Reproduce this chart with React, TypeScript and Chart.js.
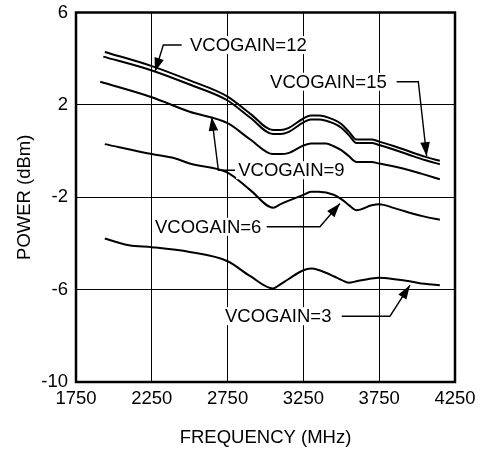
import React, { useEffect, useRef } from "react";
import { Chart, registerables } from "chart.js";

Chart.register(...registerables);

// Frequency (MHz) sample points and power (dBm) per VCOGAIN setting
const freq15 = [1940, 2250, 2500, 2750, 2900, 3050, 3100, 3150, 3250, 3300, 3350, 3450, 3500, 3550, 3600, 3700, 3750, 3850, 3950, 4050, 4150];
const gain15 = [4.29, 3.68, 3.06, 2.36, 1.61, 0.91, 0.91, 0.99, 1.41, 1.54, 1.54, 1.36, 1.17, 0.84, 0.5, 0.5, 0.41, 0.21, -0.02, -0.24, -0.42];

const freq12 = [1930, 2250, 2500, 2750, 2900, 3050, 3100, 3150, 3250, 3300, 3350, 3450, 3500, 3550, 3600, 3700, 3750, 3850, 3950, 4050, 4150];
const gain12 = [4.09, 3.49, 2.88, 2.19, 1.44, 0.74, 0.74, 0.82, 1.24, 1.37, 1.37, 1.2, 1.01, 0.69, 0.35, 0.35, 0.26, 0.06, -0.17, -0.39, -0.57];

const freq9 = [1910, 2250, 2500, 2750, 2900, 3050, 3100, 3150, 3250, 3300, 3400, 3450, 3500, 3550, 3600, 3700, 3750, 3850, 3950, 4050, 4150];
const gain9 = [3.0, 2.33, 1.7, 1.21, 0.5, -0.13, -0.13, -0.09, 0.24, 0.33, 0.33, 0.21, 0.04, -0.22, -0.47, -0.47, -0.54, -0.67, -0.83, -1.02, -1.22];

const freq6 = [1940, 2250, 2400, 2500, 2750, 2900, 3050, 3100, 3150, 3250, 3300, 3350, 3450, 3500, 3550, 3600, 3700, 3750, 3850, 3950, 4050, 4150];
const gain6 = [0.3, -0.13, -0.31, -0.54, -0.93, -1.69, -2.45, -2.3, -2.16, -1.9, -1.76, -1.76, -1.89, -2.08, -2.34, -2.56, -2.35, -2.3, -2.47, -2.67, -2.84, -2.97];

const freq3 = [1940, 2100, 2250, 2500, 2750, 2900, 3050, 3100, 3150, 3250, 3300, 3350, 3450, 3500, 3550, 3600, 3700, 3750, 3850, 3950, 4050, 4150];
const gain3 = [-3.79, -4.08, -4.16, -4.37, -4.77, -5.42, -5.95, -5.76, -5.55, -5.16, -5.09, -5.15, -5.42, -5.58, -5.7, -5.64, -5.52, -5.49, -5.55, -5.64, -5.75, -5.81];

const xTickMin = 1750;
const xTickMax = 4250;
const xTickStep = 500;
const yTickMin = -10;
const yTickMax = 6;
const yTickStep = 4;

const xTitle = "FREQUENCY (MHz)";
const yTitle = "POWER (dBm)";

const seriesLabels = ["VCOGAIN=15", "VCOGAIN=12", "VCOGAIN=9", "VCOGAIN=6", "VCOGAIN=3"];
const seriesFreqs = [freq15, freq12, freq9, freq6, freq3];
const seriesGains = [gain15, gain12, gain9, gain6, gain3];

// Callout labels, positioned in data coordinates: text start, then leader path ending at arrow tip
const callouts = [
  { text: "VCOGAIN=12", at: [2502, 4.59], path: [[2447, 4.59], [2326, 4.59], [2271, 3.43]] },
  { text: "VCOGAIN=15", at: [3030, 3.0], path: [[3865, 3.0], [4008, 3.0], [4063, -0.22]] },
  { text: "VCOGAIN=9", at: [2820, -0.83], path: [[2799, -0.83], [2689, -0.83], [2645, 1.48]] },
  { text: "VCOGAIN=6", at: [2271, -3.28], path: [[3008, -3.28], [3359, -3.28], [3491, -2.27]] },
  { text: "VCOGAIN=3", at: [2733, -7.15], path: [[3503, -7.15], [3821, -7.15], [3953, -5.81]] },
];

const FONT = "'Liberation Sans', Arial, Helvetica, sans-serif";
const FS = 18.5;

const framePlugin = {
  id: "frameAndCallouts",
  afterDatasetsDraw(chart: any) {
    const { ctx, chartArea, scales } = chart;
    const xs = scales.x;
    const ys = scales.y;
    ctx.save();
    ctx.strokeStyle = "#000";
    ctx.lineWidth = 2.5;
    ctx.strokeRect(chartArea.left, chartArea.top, chartArea.right - chartArea.left, chartArea.bottom - chartArea.top);

    ctx.font = `${FS}px ${FONT}`;
    ctx.textBaseline = "middle";
    ctx.textAlign = "left";
    for (const c of callouts) {
      const tx = xs.getPixelForValue(c.at[0]);
      const ty = ys.getPixelForValue(c.at[1]);
      const w = ctx.measureText(c.text).width;
      ctx.fillStyle = "#fff";
      ctx.fillRect(tx - 2, ty - 9, w + 4, 18);
      ctx.fillStyle = "#000";
      ctx.fillText(c.text, tx, ty + 1);

      const pts = c.path.map((p) => [xs.getPixelForValue(p[0]), ys.getPixelForValue(p[1])]);
      ctx.lineWidth = 1.4;
      ctx.beginPath();
      ctx.moveTo(pts[0][0], pts[0][1]);
      for (let i = 1; i < pts.length; i++) ctx.lineTo(pts[i][0], pts[i][1]);
      ctx.stroke();

      const [ex, ey] = pts[pts.length - 1];
      const [sx, sy] = pts[pts.length - 2];
      const ang = Math.atan2(ey - sy, ex - sx);
      const len = 14;
      const hw = 4.8;
      const bx = ex - len * Math.cos(ang);
      const by = ey - len * Math.sin(ang);
      ctx.beginPath();
      ctx.moveTo(ex, ey);
      ctx.lineTo(bx + hw * Math.sin(ang), by - hw * Math.cos(ang));
      ctx.lineTo(bx - hw * Math.sin(ang), by + hw * Math.cos(ang));
      ctx.closePath();
      ctx.fill();
    }
    ctx.restore();
  },
};

export default function App() {
  const ref = useRef<HTMLCanvasElement>(null);
  useEffect(() => {
    if (!ref.current) return;
    const chart = new Chart(ref.current, {
      type: "line",
      data: {
        datasets: seriesLabels.map((label, k) => ({
          label,
          data: seriesFreqs[k].map((x, i) => ({ x, y: seriesGains[k][i] })),
          borderColor: "#000",
          backgroundColor: "#000",
          borderWidth: 2,
          pointRadius: 0,
          cubicInterpolationMode: "monotone" as const,
          fill: false,
        })),
      },
      options: {
        animation: false,
        responsive: false,
        devicePixelRatio: 1,
        layout: { padding: { left: 0, right: 25, top: 12.5, bottom: 0 } },
        plugins: { legend: { display: false }, tooltip: { enabled: false } },
        scales: {
          x: {
            type: "linear",
            min: xTickMin,
            max: xTickMax,
            afterFit: (s: any) => {
              s.height = 71;
              s.paddingLeft = 0;
              s.paddingRight = 0;
            },
            ticks: {
              stepSize: xTickStep,
              color: "#000",
              font: { family: FONT, size: FS },
              padding: 6,
              maxRotation: 0,
              callback: (v: any) => String(v),
            },
            grid: { color: "#000", lineWidth: 1, drawTicks: false },
            border: { display: false },
            title: {
              display: true,
              text: xTitle,
              color: "#000",
              font: { family: FONT, size: FS },
              padding: { top: 0, bottom: 4 },
            },
          },
          y: {
            type: "linear",
            min: yTickMin,
            max: yTickMax,
            afterFit: (s: any) => {
              s.width = 76;
              s.paddingTop = 0;
              s.paddingBottom = 0;
            },
            ticks: {
              stepSize: yTickStep,
              color: "#000",
              font: { family: FONT, size: FS },
              padding: 8,
              callback: (v: any) => String(v),
            },
            grid: { color: "#000", lineWidth: 1, drawTicks: false },
            border: { display: false },
            title: {
              display: true,
              text: yTitle,
              color: "#000",
              font: { family: FONT, size: FS },
              padding: { top: 14, bottom: 0 },
            },
          },
        },
      },
      plugins: [framePlugin],
    });
    return () => chart.destroy();
  }, []);
  return (
    <div style={{ position: "absolute", left: 0, top: 0, width: 480, height: 453, background: "#fff" }}>
      <canvas ref={ref} width={480} height={453} style={{ display: "block" }} />
    </div>
  );
}
